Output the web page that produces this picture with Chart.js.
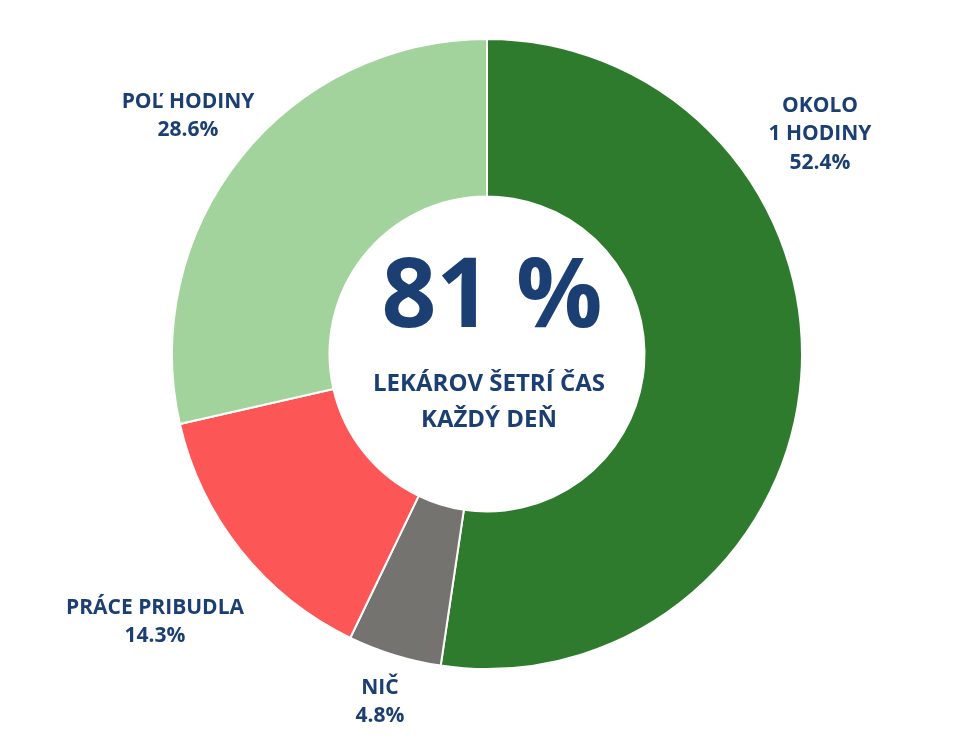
<!DOCTYPE html>
<html><head><meta charset="utf-8">
<script src="https://cdn.jsdelivr.net/npm/chart.js@4"></script>
<style>html,body{margin:0;padding:0;background:#fff}#c{display:block}</style>
</head><body>
<canvas id="c" width="960" height="741"></canvas>
<script>
const categories = ["OKOLO 1 HODINY", "NIČ", "PRÁCE PRIBUDLA", "POĽ HODINY"];
const values = [52.4, 4.8, 14.3, 28.6];
const colors = ["#2e7b2e", "#75736f", "#fd5656", "#a3d39c"];
const labelLines = [["OKOLO","1 HODINY","52.4%"],["NIČ","4.8%"],["PRÁCE PRIBUDLA","14.3%"],["POĽ HODINY","28.6%"]];
const labelPos = [[820,106],[380,688],[155,608],[188,102]];
const navy = "#1b3f72";
const textPlugin = {
  id:"txt",
  afterDraw(chart){
    const ctx = chart.ctx;
    ctx.save();
    ctx.fillStyle = navy; ctx.textAlign="center"; ctx.textBaseline="middle";
    ctx.font = "bold 21px 'Open Sans'";
    labelLines.forEach((lines,i)=>{
      lines.forEach((t,j)=>ctx.fillText(t,labelPos[i][0],labelPos[i][1]+j*28.5));
    });
    const m = chart.getDatasetMeta(0).data[0];
    ctx.font = "bold 96px 'Open Sans'";
    ctx.fillText("81 %", m.x+5, m.y-54);
    ctx.font = "bold 24px 'Open Sans'";
    ctx.fillText("LEKÁROV ŠETRÍ ČAS", m.x+2, m.y+30);
    ctx.fillText("KAŽDÝ DEŇ", m.x+2, m.y+66);
    ctx.restore();
  }
};
new Chart(document.getElementById("c"), {
  type:"doughnut",
  data:{labels:categories, datasets:[{data:values, backgroundColor:colors, borderColor:"#fff", borderWidth:2}]},
  options:{
    responsive:false, animation:false, cutout:"50%",
    layout:{padding:{top:38,bottom:71,left:171,right:157}},
    plugins:{legend:{display:false},tooltip:{enabled:false}}
  },
  plugins:[textPlugin]
});
</script>
</body></html>
